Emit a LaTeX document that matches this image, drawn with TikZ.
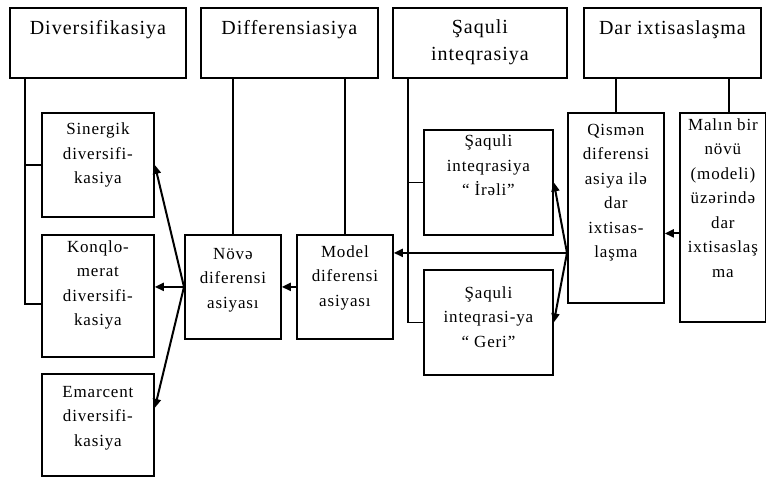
\documentclass[tikz,border=0pt]{standalone}
\usepackage{fontspec}
\setmainfont{Liberation Serif}[LetterSpace=5]
\usetikzlibrary{arrows.meta}

\tikzset{
  blk/.style={draw, line width=1.8pt, anchor=north west, inner sep=0pt},
  txt/.style={anchor=north, align=center, inner sep=0pt, yshift=-11pt, font=\fontsize{17}{24.5}\selectfont},
  toptxt/.style={anchor=north, align=center, inner sep=0pt, yshift=-13pt, font=\fontsize{20}{27}\selectfont},
  link/.style={line width=1.4pt},
  arr/.style={line width=2pt, -{Triangle[length=9pt,width=8pt]}}
}

\begin{document}
\begin{tikzpicture}[x=1pt, y=-1pt]
  \useasboundingbox (0,0) rectangle (766,477);

  % Headings
  \node[blk, minimum width=176pt, minimum height=70pt, label={[toptxt]north:{Diversifikasiya}}] (div) at (9,7) {};
  \node[blk, minimum width=177pt, minimum height=70pt, label={[toptxt]north:{Differensiasiya}}] (dif) at (200,7) {};
  \node[blk, minimum width=174pt, minimum height=70pt, label={[toptxt, yshift=1pt]north:{Şaquli\\inteqrasiya}}] (saq) at (392,7) {};
  \node[blk, minimum width=177pt, minimum height=70pt, label={[toptxt]north:{Dar ixtisaslaşma}}] (dar) at (583,7) {};

  % Boxes below
  \node[blk, minimum width=112pt, minimum height=104pt, label={[txt]north:{Sinergik\\diversifi-\\kasiya}}] (sin) at (41,112) {};
  \node[blk, minimum width=112pt, minimum height=122pt, label={[txt, yshift=5pt]north:{Konqlo-\\merat\\diversifi-\\kasiya}}] (kon) at (41,234) {};
  \node[blk, minimum width=112pt, minimum height=102pt, label={[txt, yshift=-2pt]north:{Emarcent\\diversifi-\\kasiya}}] (emr) at (41,373) {};
  \node[blk, minimum width=96pt, minimum height=104pt, label={[txt, yshift=-3pt]north:{Növə\\diferensi\\asiyası}}] (nov) at (184,234) {};
  \node[blk, minimum width=96pt, minimum height=104pt, label={[txt]north:{Model\\diferensi\\asiyası}}] (mod) at (296,234) {};
  \node[blk, minimum width=129pt, minimum height=105pt, label={[txt, yshift=5pt]north:{Şaquli\\inteqrasiya\\“ İrəli”}}] (ire) at (423,129) {};
  \node[blk, minimum width=129pt, minimum height=105pt, label={[txt, yshift=-6pt]north:{Şaquli\\inteqrasi-ya\\“ Geri”}}] (ger) at (423,269) {};
  \node[blk, minimum width=96pt, minimum height=190pt, label={[txt, yshift=-1pt]north:{Qismən\\diferensi\\asiya ilə\\dar\\ixtisas-\\laşma}}] (qis) at (567,112) {};
  \node[blk, minimum width=86pt, minimum height=209pt, label={[txt, yshift=5pt]north:{Malın bir\\növü\\(modeli)\\üzərində\\dar\\ixtisaslaş\\ma}}] (mal) at (679,112) {};

  % Lines from the headings
  \coordinate (divL) at ([xshift=16pt]div.south west);
  \draw[link] (divL) |- ([yshift=-8pt]kon.west);
  \draw[link] (divL |- sin.west) -- (sin.west);
  \draw[link] (nov.north) -- (nov.north |- dif.south);
  \draw[link] (mod.north) -- (mod.north |- dif.south);
  \coordinate (saqL) at ([xshift=16pt]saq.south west);
  \draw[link] (saqL) |- (ger.west);
  \draw[link] (saqL |- ire.west) -- (ire.west);
  \draw[link] (qis.north) -- (qis.north |- dar.south);
  \coordinate (darR) at ([xshift=-33pt]dar.south east);
  \draw[link] (darR) -- (darR |- mal.north);

  % Arrows
  \coordinate (qfork) at ([yshift=-45pt]qis.west);
  \draw[arr] (qfork) -- (qfork -| mod.east);
  \draw[arr] (qfork) -- (ire.east);
  \draw[arr] (qfork) -- (ger.east);
  \coordinate (mfork) at ([yshift=-16pt]mal.west);
  \draw[arr] (mfork) -- (mfork -| qis.east);
  \draw[arr] (mod.west) -- (nov.east);
  \draw[arr] (nov.west) -- (nov.west -| kon.east);
  \draw[arr] (nov.west) -- (sin.east);
  \draw[arr] (nov.west) -- ([yshift=17pt]emr.east);
\end{tikzpicture}
\end{document}
